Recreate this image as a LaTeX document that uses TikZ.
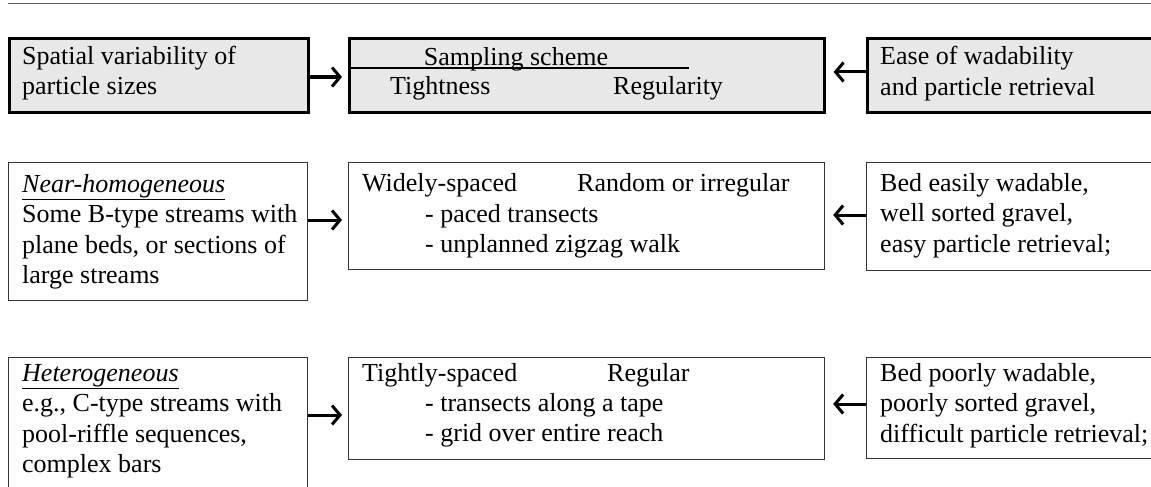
\documentclass[tikz,border=0pt]{standalone}
\usepackage{fontspec}
\setmainfont{Liberation Serif}
\usepackage{tikz}
\usetikzlibrary{arrows.meta}
\definecolor{panelgray}{RGB}{232,232,232}
\definecolor{rulegray}{RGB}{95,95,95}

\begin{document}
\begin{tikzpicture}[x=1pt, y=-1pt,
    headbox/.style={draw, line width=2.6pt, fill=panelgray, anchor=north west, inner sep=0pt},
    plainbox/.style={draw=black!80, line width=1.2pt, anchor=north west, inner sep=0pt},
    txt/.style={anchor=base west, inner sep=0pt, align=left, font=\fontsize{26}{30.5}\selectfont},
    flow/.style={line width=3pt, -{Straight Barb[length=8pt,width=19pt,line width=3pt]}}]
    \useasboundingbox (0,0) rectangle (1151,487);
    \clip (0,0) rectangle (1151,487);
    % rule at the top
    \coordinate (rulestart) at (8,4);
    \coordinate (ruleend) at (1160,4);
    \draw[rulegray, line width=1pt] (rulestart) -- (ruleend);
    % heading row (multi-line texts sit on their last baseline)
    \node[headbox, minimum width=299, minimum height=74] (spatial) at (8,37) {};
    \node[headbox, minimum width=475, minimum height=74] (scheme) at (348,37) {};
    \node[headbox, minimum width=330, minimum height=74] (ease) at (866,37) {};
    \coordinate (schemeend) at (689,68);
    \draw[line width=1.8pt] (scheme.west |- schemeend) -- (schemeend);
    \node[txt] (spatialtxt) at (22,94.5) {Spatial variability of\\particle sizes};
    \node[txt, anchor=base] (schemetitle) at (516,66) {Sampling scheme};
    \node[txt] (tightness) at (390,95) {Tightness};
    \node[txt] (regularity) at (613,95) {Regularity};
    \node[txt] (easetxt) at (880,95.5) {Ease of wadability\\and particle retrieval};
    \draw[flow, shorten >=6pt] (spatial.east |- 0,77) -- (scheme.west |- 0,77);
    \draw[flow, shorten >=8pt] (ease.west |- 0,72) -- (scheme.east |- 0,72);
    % near-homogeneous row
    \node[plainbox, minimum width=299, minimum height=138] (nearhom) at (8,162) {};
    \node[plainbox, minimum width=476, minimum height=107] (wide) at (348,162) {};
    \node[plainbox, minimum width=330, minimum height=108] (easy) at (866,162) {};
    \node[txt] (nearhomtxt) at (22,283.5) {\underline{\textit{Near-homogeneous}}\\Some B-type streams with\\plane beds, or sections of\\large streams};
    \node[txt] (widely) at (362,191) {Widely-spaced};
    \node[txt] (random) at (577,191) {Random or irregular};
    \node[txt] (widelist) at (425,252.5) {- paced transects\\- unplanned zigzag walk};
    \node[txt] (easytxt) at (880,252) {Bed easily wadable,\\well sorted gravel,\\easy particle retrieval;};
    \draw[flow, shorten >=6pt] (nearhom.east |- 0,220) -- (wide.west |- 0,220);
    \draw[flow, shorten >=8pt] (easy.west |- 0,215) -- (wide.east |- 0,215);
    % heterogeneous row
    \node[plainbox, minimum width=299, minimum height=160] (hetero) at (8,357) {};
    \node[plainbox, minimum width=476, minimum height=102] (tight) at (348,357) {};
    \node[plainbox, minimum width=330, minimum height=101] (poor) at (866,357) {};
    \node[txt] (heterotxt) at (22,472.5) {\underline{\textit{Heterogeneous}}\\e.g., C-type streams with\\pool-riffle sequences,\\complex bars};
    \node[txt] (tightly) at (362,381) {Tightly-spaced};
    \node[txt] (regular) at (607,381) {Regular};
    \node[txt] (tightlist) at (425,441.5) {- transects along a tape\\- grid over entire reach};
    \node[txt] (poortxt) at (880,442) {Bed poorly wadable,\\poorly sorted gravel,\\difficult particle retrieval;};
    \draw[flow, shorten >=6pt] (hetero.east |- 0,415) -- (tight.west |- 0,415);
    \draw[flow, shorten >=8pt] (poor.west |- 0,404) -- (tight.east |- 0,404);
\end{tikzpicture}
\end{document}
